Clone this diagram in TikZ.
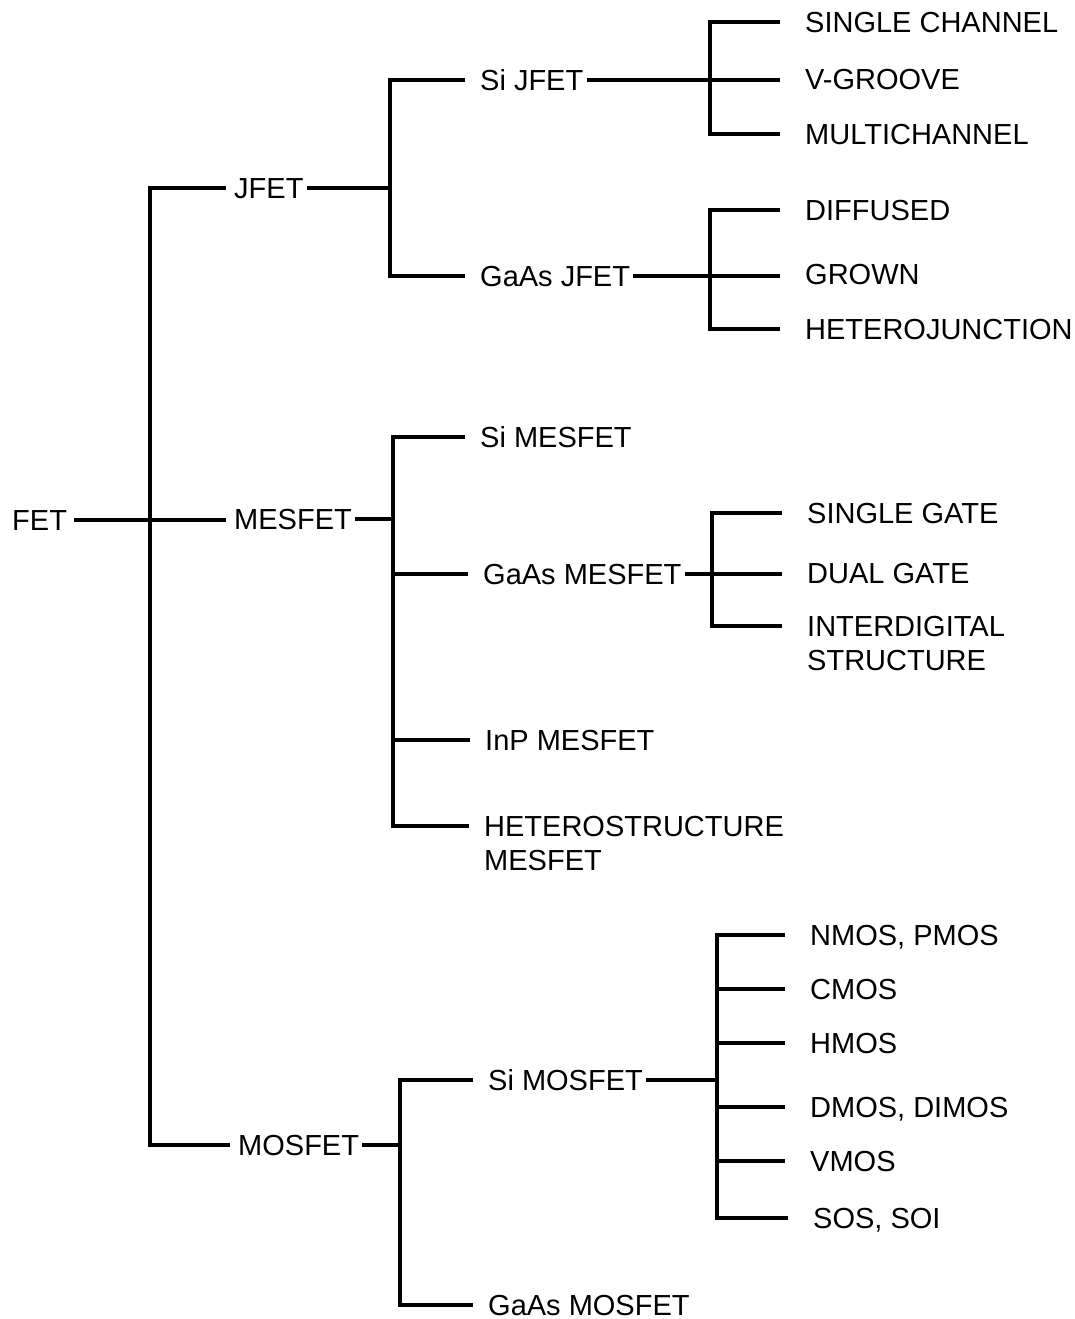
\documentclass[tikz,border=0pt]{standalone}
\usepackage{fontspec}
\setmainfont{Liberation Sans}
\newcommand{\lett}{\fontsize{29}{34}\selectfont}
\tikzset{
  lbl/.style={font=\lett, inner xsep=3pt, inner ysep=0pt, anchor=west, text height=20.8pt, text depth=0pt},
  mlbl/.style={font=\lett, inner xsep=3pt, inner ysep=0pt, anchor=north west, align=left},
  br/.style={line width=3.4pt, line join=miter},
  l1/.style={shorten >=5pt},
  l2/.style={shorten >=12pt},
  l3/.style={shorten >=22pt},
  l2b/.style={shorten >=12pt, shorten <=12pt},
  l3b/.style={shorten >=22pt, shorten <=22pt},
}
\begin{document}
\begin{tikzpicture}[x=1pt,y=-1pt]
\useasboundingbox (0,0) rectangle (1074,1319);
% nodes (text left edge minus inner sep, vertical centre)
\node[lbl] (fet)    at (9,520)   {FET};
\node[lbl] (jfet)   at (231,188) {JFET};
\node[lbl] (mesfet) at (231,519) {MESFET};
\node[lbl] (mosfet) at (235,1145) {MOSFET};
\node[lbl] (sijfet)   at (477,80)  {Si JFET};
\node[lbl] (gaasjfet) at (477,276) {GaAs JFET};
\node[lbl] (single)   at (802,22)  {SINGLE CHANNEL};
\node[lbl] (vgroove)  at (802,79)  {V-GROOVE};
\node[lbl] (multi)    at (802,134) {MULTICHANNEL};
\node[lbl] (diffused) at (802,210) {DIFFUSED};
\node[lbl] (grown)    at (802,274) {GROWN};
\node[lbl] (hetj)     at (802,329) {HETEROJUNCTION};
\node[lbl] (simes)    at (477,437) {Si MESFET};
\node[lbl] (gaasmes)  at (480,574) {GaAs MESFET};
\node[lbl] (sgate)    at (804,513) {SINGLE GATE};
\node[lbl] (dgate)    at (804,573) {DUAL GATE};
\node[mlbl] (interd)  at (804,615.6) {INTERDIGITAL\\STRUCTURE};
\node[lbl] (inp)      at (482,740) {InP MESFET};
\node[mlbl] (hetmes)  at (481,815.6) {HETEROSTRUCTURE\\MESFET};
\node[lbl] (simos)    at (485,1080) {Si MOSFET};
\node[lbl] (gaasmos)  at (485,1305) {GaAs MOSFET};
\node[lbl] (nmos)     at (807,935)  {NMOS, PMOS};
\node[lbl] (cmos)     at (807,989)  {CMOS};
\node[lbl] (hmos)     at (807,1043) {HMOS};
\node[lbl] (dmos)     at (807,1107) {DMOS, DIMOS};
\node[lbl] (vmos)     at (807,1161) {VMOS};
\node[lbl] (sos)      at (810,1218) {SOS, SOI};
% bar positions
\coordinate (b0) at (150,0);
\coordinate (b1) at (390,0);
\coordinate (b2) at (710,0);
\coordinate (b3) at (710,0);
\coordinate (b4) at (393,0);
\coordinate (b5) at (712,0);
\coordinate (b6) at (400,0);
\coordinate (b7) at (717,0);
\coordinate (idl) at ([yshift=-10.4pt]interd.north west);
\coordinate (hml) at ([yshift=-10.4pt]hetmes.north west);
% level 0
\draw[br,l1,shorten <=4pt] (fet.east) -- (fet.east -| mesfet.west);
\draw[br,l1,shorten <=5pt] (jfet.west) -| (b0 |- mosfet.west) -- (mosfet.west);
% JFET
\draw[br] (jfet.east) -- (jfet.east -| b1);
\draw[br,l2b] (sijfet.west) -| (b1 |- gaasjfet.west) -- (gaasjfet.west);
\draw[br,l3] (sijfet.east) -- (sijfet.east -| vgroove.west);
\draw[br,l3b] (single.west) -| (b2 |- multi.west) -- (multi.west);
\draw[br,l3] (gaasjfet.east) -- (gaasjfet.east -| grown.west);
\draw[br,l3b] (diffused.west) -| (b3 |- hetj.west) -- (hetj.west);
% MESFET
\draw[br] (mesfet.east) -- (mesfet.east -| b4);
\draw[br,l2b] (simes.west) -| (b4 |- hml) -- (hml);
\draw[br,l2] (b4 |- gaasmes.west) -- (gaasmes.west);
\draw[br,l2] (b4 |- inp.west) -- (inp.west);
\draw[br,l3] (gaasmes.east) -- (gaasmes.east -| dgate.west);
\draw[br,l3b] (sgate.west) -| (b5 |- idl) -- (idl);
% MOSFET
\draw[br] (mosfet.east) -- (mosfet.east -| b6);
\draw[br,l2b] (simos.west) -| (b6 |- gaasmos.west) -- (gaasmos.west);
\draw[br] (simos.east) -- (simos.east -| b7);
\draw[br,l3b] (nmos.west) -| (b7 |- sos.west) -- (sos.west);
\draw[br,l3] (b7 |- cmos.west) -- (cmos.west);
\draw[br,l3] (b7 |- hmos.west) -- (hmos.west);
\draw[br,l3] (b7 |- dmos.west) -- (dmos.west);
\draw[br,l3] (b7 |- vmos.west) -- (vmos.west);
\end{tikzpicture}
\end{document}
